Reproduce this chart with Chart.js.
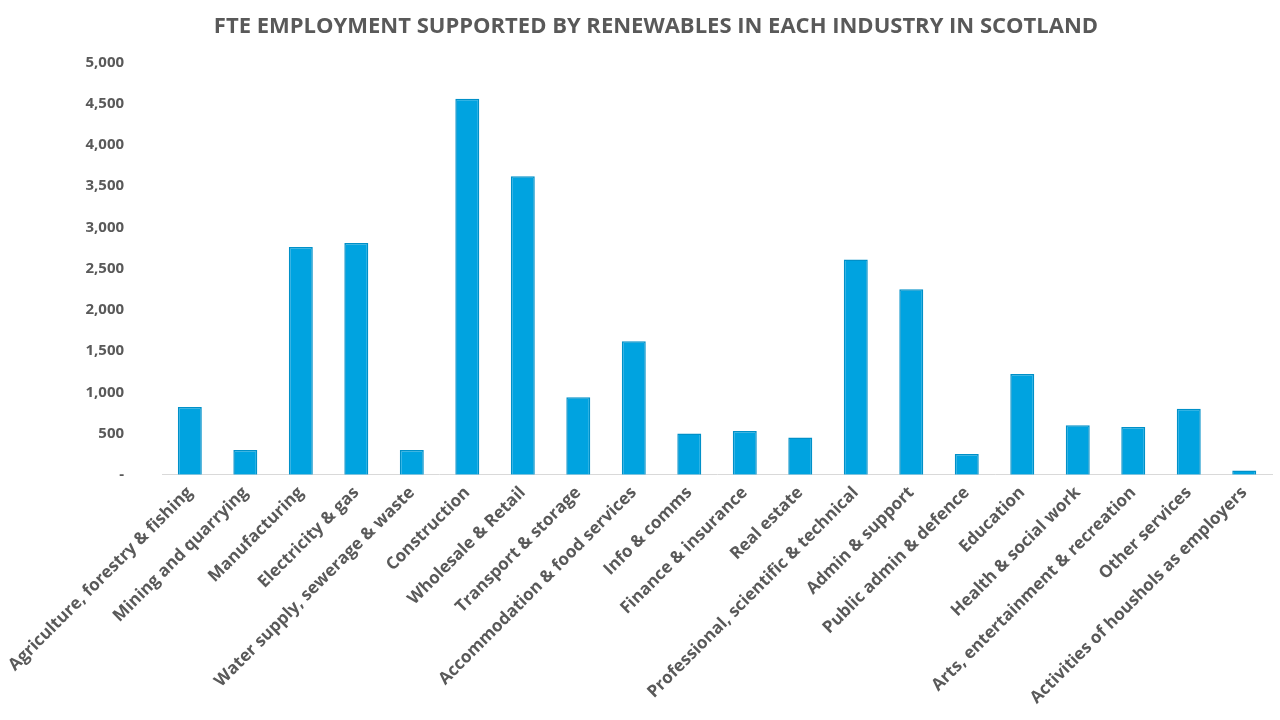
<!DOCTYPE html>
<html><head><meta charset="utf-8">
<script src="https://cdn.jsdelivr.net/npm/chart.js@4/dist/chart.umd.min.js"></script>
<style>html,body{margin:0;padding:0;background:#fff;}#wrap{width:1280px;height:720px;}</style>
</head><body><div id="wrap"><canvas id="c" width="1280" height="720"></canvas></div>
<script>
const categories = ["Agriculture, forestry & fishing","Mining and quarrying","Manufacturing","Electricity & gas","Water supply, sewerage & waste","Construction","Wholesale & Retail","Transport & storage","Accommodation & food services","Info & comms","Finance & insurance","Real estate","Professional, scientific & technical","Admin & support","Public admin & defence","Education","Health & social work","Arts, entertainment & recreation","Other services","Activities of houshols as employers"];
const employment = [820,300,2760,2810,300,4560,3620,940,1620,500,530,450,2610,2250,250,1220,600,580,800,50];
const yTicks = [0,500,1000,1500,2000,2500,3000,3500,4000,4500,5000];
const titleText = "FTE EMPLOYMENT SUPPORTED BY RENEWABLES IN EACH INDUSTRY IN SCOTLAND";
const grey = "#595959";
new Chart(document.getElementById('c'), {
  type: 'bar',
  data: { labels: categories, datasets: [{ data: employment, backgroundColor: '#00A3E0', borderColor: '#0090C8', borderWidth: 1.5, categoryPercentage: 0.9, barPercentage: 0.48 }] },
  options: {
    responsive: false, animation: false,
    layout: { padding: { left: 40, right: 8, top: 4, bottom: 4 } },
    plugins: {
      legend: { display: false }, tooltip: { enabled: false },
      title: { display: true, text: titleText, color: grey, font: { family: 'Open Sans', size: 22, weight: 'bold' }, padding: { top: 10, bottom: 22 } }
    },
    scales: {
      x: {
        grid: { display: false, drawTicks: false },
        border: { color: '#d9d9d9', width: 1 },
        ticks: { color: grey, font: { family: 'Open Sans', size: 17, weight: 'bold' }, maxRotation: 45, minRotation: 45, autoSkip: false, padding: 8 }
      },
      y: {
        min: 0, max: 5000,
        grid: { display: false },
        border: { display: false },
        afterBuildTicks: s => { s.ticks = yTicks.map(v => ({ value: v })); },
        ticks: { color: grey, font: { family: 'Open Sans', size: 15, weight: 'bold' }, padding: 30,
          callback: v => v === 0 ? '-' : v.toLocaleString('en-US') }
      }
    }
  }
});
</script></body></html>
